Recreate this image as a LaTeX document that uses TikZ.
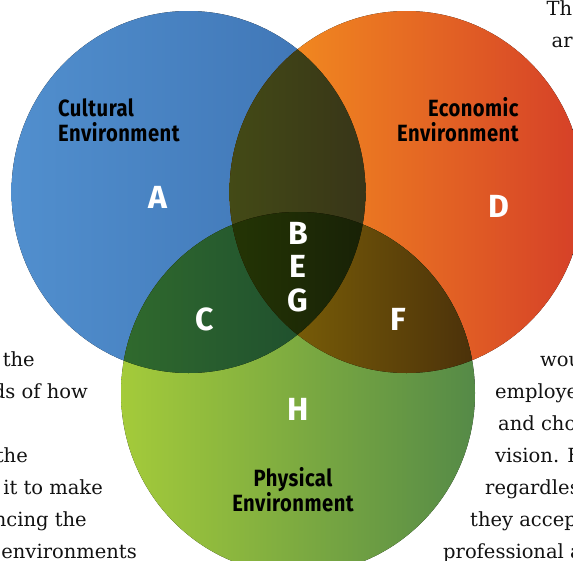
\documentclass[tikz,border=0pt]{standalone}
\usepackage{fontspec}
\newfontfamily\labelfont[FakeStretch=0.86,LetterSpace=2]{Fira Sans}
\newfontfamily\letterfont{Fira Sans}
\newfontfamily\bodyfont{DejaVu Serif}
\definecolor{blueL}{RGB}{81,143,206}
\definecolor{blueR}{RGB}{61,114,178}
\definecolor{orangeL}{RGB}{247,152,30}
\definecolor{orangeR}{RGB}{213,63,40}
\definecolor{greenL}{RGB}{164,203,58}
\definecolor{greenR}{RGB}{85,138,71}
\definecolor{boL}{RGB}{67,74,22}
\definecolor{boR}{RGB}{56,53,24}
\definecolor{bgL}{RGB}{48,106,45}
\definecolor{bgR}{RGB}{26,71,47}
\definecolor{ogL}{RGB}{135,107,7}
\definecolor{ogR}{RGB}{75,49,10}
\definecolor{allL}{RGB}{36,53,5}
\definecolor{allR}{RGB}{24,33,6}
\definecolor{ink}{HTML}{121212}
\tikzset{
  circlab/.style={font=\labelfont\bfseries\fontsize{23.5}{25}\selectfont, text=black, inner sep=0pt},
  letter/.style={font=\letterfont\bfseries\fontsize{32}{34}\selectfont, text=white, inner sep=0pt, anchor=base},
  bodytext/.style={font=\bodyfont\fontsize{19.5}{32}\selectfont, text=ink, inner sep=0pt}
}
\def\blueC{(188.5,192) ellipse [x radius=177, y radius=181]}
\def\orangeC{(406.5,192) ellipse [x radius=177, y radius=181]}
\def\greenC{(298,393) ellipse [x radius=177, y radius=181]}
\begin{document}
\begin{tikzpicture}[x=1pt,y=-1pt]
\useasboundingbox (0,0) rectangle (573,560);
% single circles
\fill[left color=blueL, right color=blueR] \blueC;
\fill[left color=orangeL, right color=orangeR] \orangeC;
\fill[left color=greenL, right color=greenR] \greenC;
% blue & orange
\begin{scope}
  \clip \blueC; \clip \orangeC;
  \fill[left color=boL, right color=boR] (229.5,0) rectangle (365.5,560);
\end{scope}
% blue & green
\begin{scope}
  \clip \blueC; \clip \greenC;
  \fill[left color=bgL, right color=bgR] (121,0) rectangle (365.5,560);
\end{scope}
% orange & green
\begin{scope}
  \clip \orangeC; \clip \greenC;
  \fill[left color=ogL, right color=ogR] (229.5,0) rectangle (475,560);
\end{scope}
% all three
\begin{scope}
  \clip \blueC; \clip \orangeC; \clip \greenC;
  \fill[left color=allL, right color=allR] (229.5,0) rectangle (365.5,560);
\end{scope}
% circle titles
\node[circlab, anchor=base west] (cult1) at (58,116) {Cultural};
\node[circlab, anchor=base west] (cult2) at (58,141.8) {Environment};
\node[circlab, anchor=base east] (econ1) at (518.8,116) {Economic};
\node[circlab, anchor=base east] (econ2) at (518.8,141.8) {Environment};
\node[circlab, anchor=base] (phys1) at (293,486) {Physical};
\node[circlab, anchor=base] (phys2) at (293,511.5) {Environment};
% region letters
\node[letter] (A) at (158,208) {A};
\node[letter] (D) at (499,217.4) {D};
\node[letter] (C) at (204.6,330.5) {C};
\node[letter] (F) at (398,330.5) {F};
\node[letter] (H) at (298,420) {H};
\node[letter] (B) at (298,244.8) {B};
\node[letter] (E) at (298,277.7) {E};
\node[letter] (G) at (298,311.8) {G};
% surrounding page text fragments
\node[bodytext, anchor=base east] (l1) at (35,366) {e the};
\node[bodytext, anchor=base east] (l2) at (88,398) {ds of how};
\node[bodytext, anchor=base east] (l3) at (28,462) {the};
\node[bodytext, anchor=base east] (l4) at (103,494) {e it to make};
\node[bodytext, anchor=base east] (l5) at (87,526) {ncing the};
\node[bodytext, anchor=base east] (l6) at (137,558) {environments};
\node[bodytext, anchor=base west] (r0) at (546.5,15) {Th};
\node[bodytext, anchor=base west] (r00) at (551.5,47) {are};
\node[bodytext, anchor=base west] (r1) at (540,366) {wou};
\node[bodytext, anchor=base west] (r2) at (495,398) {employe};
\node[bodytext, anchor=base west] (r3) at (498,430) {and cho};
\node[bodytext, anchor=base west] (r4) at (495,462) {vision. F};
\node[bodytext, anchor=base west] (r5) at (485,494) {regardles};
\node[bodytext, anchor=base west] (r6) at (470,526) {they accep};
\node[bodytext, anchor=base west] (r7) at (443,558) {professional a};
\end{tikzpicture}
\end{document}
